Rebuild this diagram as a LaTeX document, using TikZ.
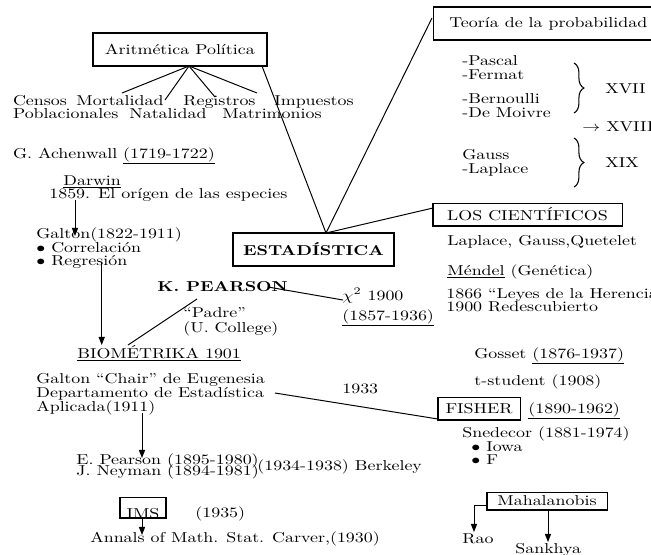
\documentclass[tikz,border=0pt]{standalone}
\usetikzlibrary{arrows.meta,decorations.pathreplacing}
\newcommand{\vs}[1]{\scalebox{1}[0.8]{#1}}
\begin{document}
\begin{tikzpicture}[x=0.558pt,y=-0.558pt,
  txt/.style={anchor=base west,inner sep=0pt},
  boxn/.style={draw,line width=0.6pt,inner sep=0pt},
  ln/.style={line width=0.55pt},
  arr/.style={line width=0.55pt,-{Triangle[length=4.5pt,width=3.4pt]}},
  brc/.style={decorate,decoration={brace,amplitude=5.5pt},line width=0.6pt}]
\useasboundingbox (0,0) rectangle (651,554);

% --- Aritmetica Politica
\node[boxn,minimum width=97.1pt,minimum height=18.4pt] (arit) at (180,49.5) {\vs{Aritmética Política}};
\node[txt] (censos) at (12.7,105) {\vs{Censos}};
\node[txt] (mort) at (76,105) {\vs{Mortalidad}};
\node[txt] (regis) at (183,105) {\vs{Registros}};
\node[txt] (impu) at (274,105) {\vs{Impuestos}};
\node[txt] (pobl) at (12.7,118) {\vs{Poblacionales}};
\node[txt] (nata) at (129,118) {\vs{Natalidad}};
\node[txt] (matri) at (222,118) {\vs{Matrimonios}};
\coordinate (ap) at (189,66);
\coordinate (apA) at (122,93);
\coordinate (apB) at (165,100);
\coordinate (apC) at (215,97);
\coordinate (apD) at (257,93);
\draw[ln] (ap) -- (apA);
\draw[ln] (ap) -- (apB);
\draw[ln] (ap) -- (apC);
\draw[ln] (ap) -- (apD);

% --- ESTADISTICA
\node[boxn,minimum width=89.8pt,minimum height=18.4pt,font=\bfseries] (estad) at (313.5,249.5) {\vs{ESTADÍSTICA}};
\node[boxn,anchor=west,minimum height=18.4pt,inner xsep=8.9pt] (teoria) at (433,23.5) {\vs{Teoría de la probabilidad}};
\node[boxn,minimum width=105.5pt,minimum height=12.8pt] (cient) at (527.5,214.5) {\vs{LOS CIENTÍFICOS}};
\coordinate (ar) at (262,66);
\coordinate (ev) at (326,233);
\coordinate (tl) at (432,18);
\coordinate (cl) at (433,208);
\draw[ln] (ar) -- (ev) -- (tl);
\draw[ln] (ev) -- (cl);

% --- Teoria de la probabilidad
\node[txt] (pascal) at (462,65) {\vs{-Pascal}};
\node[txt] (fermat) at (462,79) {\vs{-Fermat}};
\node[txt] (bern) at (462,103) {\vs{-Bernoulli}};
\node[txt] (moivre) at (462,117) {\vs{-De Moivre}};
\node[txt] (gauss) at (462,159) {\vs{Gauss}};
\node[txt] (laplace) at (462,173) {\vs{-Laplace}};
\node[txt] (xviii) at (582,131) {\vs{$\rightarrow$ XVIII}};
\node[txt] (xvii) at (605,93) {\vs{XVII}};
\node[txt] (xix) at (605,167) {\vs{XIX}};
\coordinate (b1t) at (574,63);
\coordinate (b1b) at (574,113);
\coordinate (b2t) at (574,138);
\coordinate (b2b) at (574,187);
\draw[brc] (b1t) -- (b1b);
\draw[brc] (b2t) -- (b2b);

% --- Cientificos
\node[txt] (lgq) at (447,245) {\vs{Laplace, Gauss,Quetelet}};
\node[txt] (mendel) at (447,275) {\vs{\underline{Méndel} (Genética)}};
\node[txt] (leyes) at (446,298) {\vs{1866 ``Leyes de la Herencia''}};
\node[txt] (redes) at (446,311) {\vs{1900 Redescubierto}};

% --- Achenwall, Darwin, Galton
\node[txt] (achen) at (12.7,158) {\vs{G. Achenwall \underline{(1719-1722)}}};
\node[txt] (darwin) at (63,185) {\vs{\underline{Darwin}}};
\node[txt] (origen) at (49,198) {\vs{1859. El orígen de las especies}};
\node[txt] (galton) at (36,238) {\vs{Galton(1822-1911)}};
\node[txt] (corr) at (36,252) {\vs{$\bullet$ Correlación}};
\node[txt] (regr) at (36,265) {\vs{$\bullet$ Regresión}};
\coordinate (da1) at (75,200);
\coordinate (da2) at (75,236);
\draw[arr] (da1) -- (da2);
\coordinate (ga1) at (101.7,262);
\coordinate (ga2) at (101.7,345);
\draw[arr] (ga1) -- (ga2);

% --- Pearson
\node[txt,font=\bfseries] (kpear) at (157,291) {\vs{K. PEARSON}};
\node[txt] (chi) at (342,300) {\vs{$\chi^2$ 1900}};
\node[txt] (kpy) at (342,320) {\vs{\underline{(1857-1936)}}};
\node[txt] (padre) at (183,317) {\vs{``Padre''}};
\node[txt] (ucol) at (183,332) {\vs{(U. College)}};
\coordinate (kp1) at (268,287);
\coordinate (kp2) at (343,300);
\draw[ln] (kp1) -- (kp2);
\coordinate (pb1) at (197,299);
\coordinate (pb2) at (128,345);
\draw[ln] (pb1) -- (pb2);

% --- Biometrika
\node[txt] (biom) at (77,358) {\vs{\underline{BIOMÉTRIKA 1901}}};
\node[txt] (chair) at (36,383) {\vs{Galton ``Chair'' de Eugenesia}};
\node[txt] (depto) at (36,397) {\vs{Departamento de Estadística}};
\node[txt] (aplic) at (36,411) {\vs{Aplicada(1911)}};
\node[txt] (y1933) at (342,393) {\vs{1933}};
\node[boxn,minimum width=45.8pt,minimum height=12.8pt] (fisher) at (479,408.5) {\vs{FISHER}};
\coordinate (df1) at (275,393);
\coordinate (df2) at (438,419);
\draw[ln] (df1) -- (df2);
\node[txt] (fishy) at (528,413) {\vs{\underline{(1890-1962)}}};
\node[txt] (gosset) at (474,358) {\vs{Gosset \underline{(1876-1937)}}};
\node[txt] (tstud) at (474,385) {\vs{t-student (1908)}};
\node[txt] (snede) at (462,437) {\vs{Snedecor (1881-1974)}};
\node[txt] (iowa) at (471,451) {\vs{$\bullet$ Iowa}};
\node[txt] (ff) at (471,464) {\vs{$\bullet$ F}};

% --- E. Pearson / Neyman
\coordinate (ep1) at (142,413);
\coordinate (ep2) at (142,458);
\draw[arr] (ep1) -- (ep2);
\node[txt] (epear) at (76,464.5) {\vs{E. Pearson (1895-1980)}};
\node[txt] (jney) at (76,475) {\vs{J. Neyman (1894-1981)}};
\node[txt] (berk) at (257,470) {\vs{(1934-1938) Berkeley}};

% --- IMS
\node[boxn,anchor=base,minimum width=25.7pt,text height=11.2pt,text depth=0pt,inner ysep=0pt] (ims) at (143,518) {\vs{IMS}};
\node[txt] (y1935) at (195,517) {\vs{(1935)}};
\node[txt] (annals) at (90,542) {\vs{Annals of Math. Stat. Carver,(1930)}};
\coordinate (im1) at (142,518);
\coordinate (im2) at (142,535);
\draw[arr] (im1) -- (im2);

% --- Mahalanobis
\node[boxn,minimum width=67pt,minimum height=10pt] (maha) at (547,501) {\vs{Mahalanobis}};
\node[txt] (rao) at (462,543) {\vs{Rao}};
\node[txt] (sank) at (515,553) {\vs{Sankhya}};
\coordinate (mr) at (474,532);
\coordinate (ms) at (548,542);
\draw[arr] (maha.west |- 0,505) -| (mr);
\draw[arr] (maha.south -| ms) -- (ms);
\end{tikzpicture}
\end{document}
